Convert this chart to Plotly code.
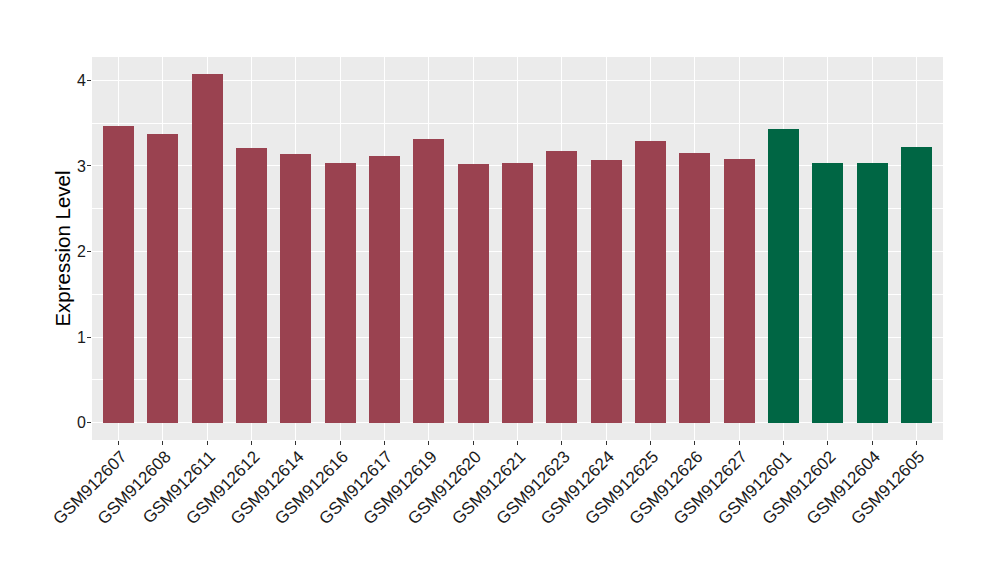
import plotly.graph_objects as go

samples = ["GSM912607", "GSM912608", "GSM912611", "GSM912612", "GSM912614", "GSM912616",
           "GSM912617", "GSM912619", "GSM912620", "GSM912621", "GSM912623", "GSM912624",
           "GSM912625", "GSM912626", "GSM912627", "GSM912601", "GSM912602", "GSM912604",
           "GSM912605"]
values = [3.47, 3.37, 4.07, 3.21, 3.14, 3.04, 3.12, 3.31, 3.02, 3.03, 3.17, 3.07,
          3.29, 3.15, 3.08, 3.43, 3.03, 3.04, 3.22]
groups = ["a"] * 15 + ["b"] * 4
group_colors = {"a": "#9a4250", "b": "#006644"}

fig = go.Figure()
fig.add_trace(go.Bar(
    x=samples, y=values,
    marker=dict(color=[group_colors[g] for g in groups], line=dict(width=0)),
    width=0.7, showlegend=False,
))

font_family = "Liberation Sans, Arial, sans-serif"
fig.update_layout(
    width=1000, height=580,
    margin=dict(l=84, r=65, t=49, b=148),
    paper_bgcolor="white", plot_bgcolor="#ebebeb",
    font=dict(family=font_family, color="#1a1a1a"),
    bargap=0,
)
fig.update_xaxes(
    type="category", range=[-0.6, len(samples) - 0.4], automargin=False,
    showgrid=True, gridcolor="white", gridwidth=1.1,
    tickangle=-45, tickfont=dict(size=17, color="#1a1a1a"),
    ticks="outside", ticklen=4, tickcolor="#333333", tickwidth=1,
    ticklabelstandoff=-5, ticklabelshift=3,
    zeroline=False, showline=False,
)
fig.update_yaxes(
    range=[-0.2035, 4.2735], automargin=False,
    tickvals=[0, 1, 2, 3, 4], ticktext=["0", "1", "2", "3", "4"],
    showgrid=True, gridcolor="white", gridwidth=1.1,
    minor=dict(tickvals=[0.5, 1.5, 2.5, 3.5], showgrid=True, gridcolor="white", gridwidth=0.55, ticks=""),
    tickfont=dict(size=16, color="#1a1a1a"),
    ticks="outside", ticklen=4, tickcolor="#333333", tickwidth=1,
    ticklabelstandoff=-2,
    zeroline=False, showline=False,
    title=dict(text="Expression Level", font=dict(size=20.5, color="black"), standoff=0),
)

fig.write_html("out.html")
